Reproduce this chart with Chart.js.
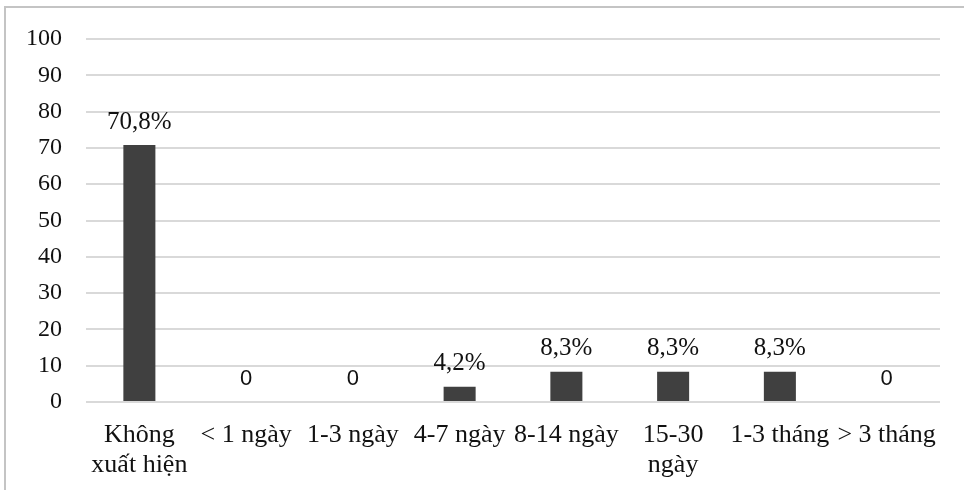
<!DOCTYPE html>
<html>
<head>
<meta charset="utf-8">
<script src="https://cdn.jsdelivr.net/npm/chart.js@4.4.1/dist/chart.umd.min.js"></script>
<style>
  html, body { margin: 0; padding: 0; background: #ffffff; }
  #wrap { position: relative; width: 964px; height: 490px; }
</style>
</head>
<body>
<div id="wrap"><canvas id="c" width="964" height="490"></canvas></div>
<script>
// Time until onset categories and share of patients (%)
const categories = [
  ['Không', 'xuất hiện'],
  '< 1 ngày',
  '1-3 ngày',
  '4-7 ngày',
  '8-14 ngày',
  ['15-30', 'ngày'],
  '1-3 tháng',
  '> 3 tháng'
];
const shares = [70.8, 0, 0, 4.2, 8.3, 8.3, 8.3, 0];
const shareLabels = ['70,8%', '0', '0', '4,2%', '8,3%', '8,3%', '8,3%', '0'];
const yTicks = [0, 10, 20, 30, 40, 50, 60, 70, 80, 90, 100];

const serif = '"Liberation Serif", "Times New Roman", serif';
const sans = '"Liberation Sans", Arial, sans-serif';

// Light frame along the top and left edges
const framePlugin = {
  id: 'frame',
  beforeDraw(chart) {
    const ctx = chart.ctx;
    ctx.save();
    ctx.strokeStyle = '#c4c4c4';
    ctx.lineWidth = 2;
    ctx.beginPath();
    ctx.moveTo(5, 490);
    ctx.lineTo(5, 7);
    ctx.lineTo(964, 7);
    ctx.stroke();
    ctx.restore();
  }
};

// Value labels above each bar
const valueLabelPlugin = {
  id: 'valueLabels',
  afterDatasetsDraw(chart) {
    const ctx = chart.ctx;
    const meta = chart.getDatasetMeta(0);
    ctx.save();
    ctx.fillStyle = '#111111';
    ctx.textAlign = 'center';
    ctx.textBaseline = 'middle';
    meta.data.forEach((bar, i) => {
      const text = shareLabels[i];
      ctx.font = (text === '0' ? '22px ' + sans : '25px ' + serif);
      ctx.fillText(text, bar.x, bar.y - 23);
    });
    ctx.restore();
  }
};

new Chart(document.getElementById('c'), {
  type: 'bar',
  data: {
    labels: categories,
    datasets: [{
      data: shares,
      backgroundColor: '#404040',
      borderWidth: 0,
      barPercentage: 0.3,
      categoryPercentage: 1.0
    }]
  },
  options: {
    responsive: false,
    animation: false,
    layout: { padding: { top: 39, right: 24, left: 0, bottom: 0 } },
    plugins: {
      legend: { display: false },
      tooltip: { enabled: false }
    },
    scales: {
      x: {
        grid: { display: false, drawTicks: false },
        border: { display: false },
        ticks: {
          color: '#111111',
          font: { family: serif, size: 26, lineHeight: 1.12 },
          padding: 19,
          maxRotation: 0,
          minRotation: 0,
          autoSkip: false
        },
        afterFit(scale) { scale.height = 88; }
      },
      y: {
        min: 0,
        max: 100,
        afterBuildTicks(scale) { scale.ticks = yTicks.map(v => ({ value: v })); },
        grid: { color: '#d9d9d9', lineWidth: 2, drawTicks: false },
        border: { display: false },
        ticks: {
          color: '#111111',
          font: { family: serif, size: 24 },
          padding: 24
        },
        afterFit(scale) { scale.width = 86; }
      }
    }
  },
  plugins: [framePlugin, valueLabelPlugin]
});
</script>
</body>
</html>
